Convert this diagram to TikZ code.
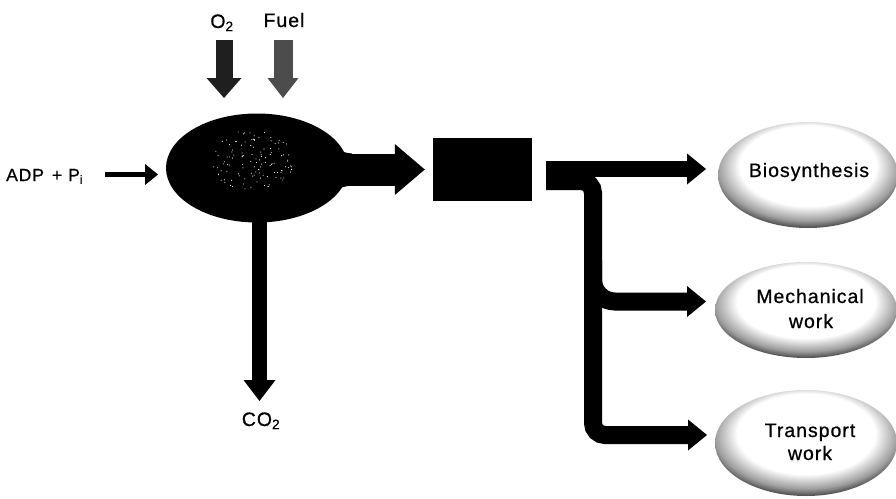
\documentclass[tikz,border=0pt]{standalone}
\usepackage{fontspec}
\setmainfont{Liberation Sans}[LetterSpace=5.0, FakeBold=0.7]
\usetikzlibrary{arrows.meta,shapes.geometric}
\pgfdeclareradialshading{cushion}{\pgfpoint{0bp}{7bp}}{color(0bp)=(white); color(19bp)=(white); color(25bp)=(black!38); color(30bp)=(black!92); color(50bp)=(black!92)}
\begin{document}
\begin{tikzpicture}[x=1pt,y=-1pt,
  lbl/.style={font=\fontsize{19.5}{22}\selectfont, inner sep=0pt},
  oval/.style={ellipse, shade, shading=cushion, inner sep=0pt},
  fat/.style={draw=black, line width=#1},
  tipL/.style={-{Triangle[length=19pt,width=31pt,line width=0pt]}}]
\useasboundingbox (0,0) rectangle (896,498);
\fill[white] (0,0) rectangle (896,498);

% result ovals
\node[oval, minimum width=180pt, minimum height=106pt] (bio) at (808,175) {};
\node[oval, minimum width=182pt, minimum height=96pt] (mech) at (806,310) {};
\node[oval, minimum width=182pt, minimum height=106pt] (trans) at (806,443) {};
\node[lbl, anchor=base] (biot) at (809,177) {Biosynthesis};
\node[lbl, anchor=base] (mecht) at (810,303) {Mechanical};
\node[lbl, anchor=base] (mechw) at (811,328) {work};
\node[lbl, anchor=base] (trant) at (810,437) {Transport};
\node[lbl, anchor=base] (tranw) at (810,460) {work};

% input labels
\node[lbl, anchor=base] (o2) at (222,28) {O\textsubscript{2}};
\node[lbl, anchor=base] (fuel) at (284,27) {Fuel};
\node[lbl, anchor=base west, font=\fontsize{17.5}{20}\selectfont] (adp) at (6,181) {ADP\hspace{8pt}+\hspace{6pt}P\textsubscript{i}};
\node[lbl, anchor=base] (co2) at (261,426) {CO\textsubscript{2}};

% cell ellipse and ATP box
\node[ellipse, fill=black, minimum width=182pt, minimum height=109pt, inner sep=0pt] (cell) at (257,168) {};
\node[fill=black, minimum width=99pt, minimum height=63pt, inner sep=0pt] (atp) at (482.5,169.5) {};

% coordinates for free arrow ends
\coordinate (o2s) at (224,40);   \coordinate (o2e) at (224,98);
\coordinate (fus) at (283,40);   \coordinate (fue) at (283,98);
\coordinate (adps) at (105,174.5); \coordinate (adpe) at (158,174.5);
\coordinate (cellout) at (330,169.5);
\coordinate (co2s) at (259.5,215); \coordinate (co2e) at (259.5,401);
\coordinate (splitA) at (546,169);
\coordinate (splitB) at (546,181);
\coordinate (trunk) at (593,435);
\coordinate (midtop) at (593,260);
\coordinate (bioin) at (706,169);
\coordinate (mechin) at (706,301.5);
\coordinate (tranin) at (707,435);

% inputs
\draw[line width=17pt, draw=black!88, -{Triangle[length=20pt,width=35pt,line width=0pt]}] (o2s) -- (o2e);
\draw[line width=19pt, draw=black!70, -{Triangle[length=20pt,width=31pt,line width=0pt]}] (fus) -- (fue);
\draw[fat=5pt, -{Triangle[length=13pt,width=21pt,line width=0pt]}] (adps) -- (adpe);

% outputs of cell
\draw[fat=32pt, -{Triangle[length=30pt,width=51pt,line width=0pt]}] (cellout) -- ([xshift=-8pt]atp.west |- cellout);
\fill[black] (332,148) .. controls (340,151) and (345,153) .. (352,153.5) -- (352,185.5) .. controls (345,186) and (340,188) .. (332,191) -- cycle;
\draw[fat=15pt, -{Triangle[length=21pt,width=32pt,line width=0pt]}] (co2s) -- (co2e);

% speckles in the cell
\pgfmathsetseed{7}
\foreach \i in {1,...,120}{
  \pgfmathsetmacro\ang{rand*180}
  \pgfmathsetmacro\rr{sqrt(abs(rand))}
  \fill[white] ({252+42*\rr*cos(\ang)},{160+30*\rr*sin(\ang)}) circle (0.55pt);
}

% branching arrows
\draw[fat=16pt, tipL] (splitA) -- (bioin);
\draw[fat=18pt, rounded corners=12pt, tipL] (splitB) -| (trunk) -- (tranin);
\draw[fat=18pt, rounded corners=22pt, tipL] (midtop) |- (mechin);
\end{tikzpicture}
\end{document}
